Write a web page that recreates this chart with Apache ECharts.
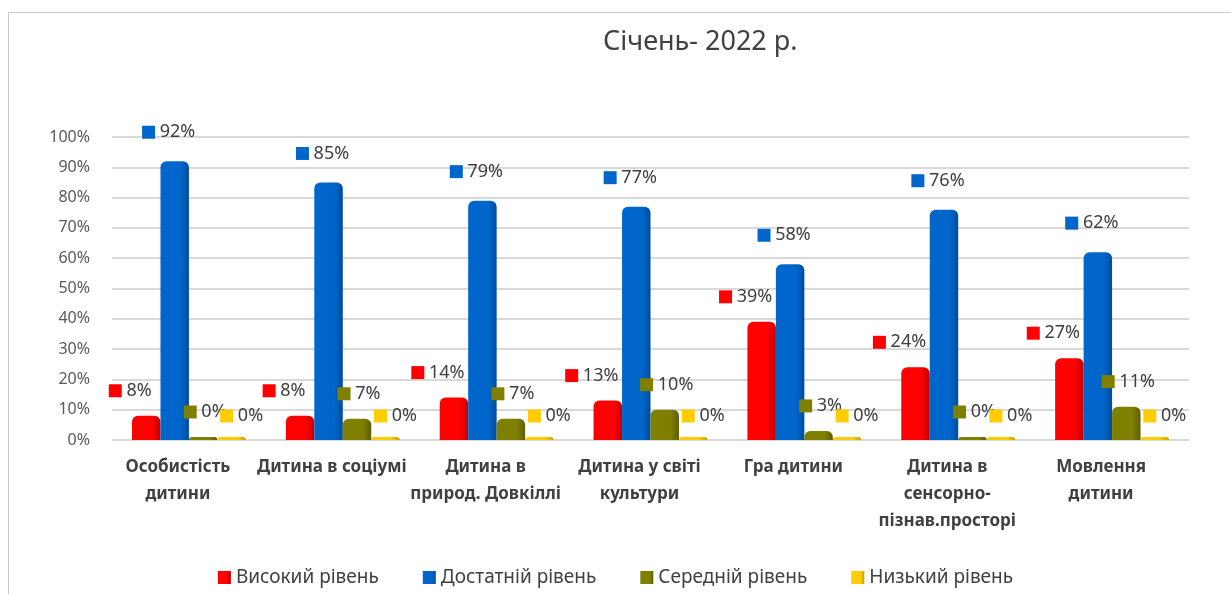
<!DOCTYPE html>
<html>
<head>
<meta charset="utf-8">
<script src="https://cdn.jsdelivr.net/npm/echarts@6/dist/echarts.min.js"></script>
<style>
html,body{margin:0;padding:0;background:#fff;}
#chart{width:1231px;height:594px;}
</style>
</head>
<body>
<div id="chart"></div>
<script>
var categories = ['Особистість\nдитини', 'Дитина в соціумі', 'Дитина в\nприрод. Довкіллі', 'Дитина у світі\nкультури', 'Гра дитини', 'Дитина в\nсенсорно-\nпізнав.просторі', 'Мовлення\nдитини'];
var seriesNames = ['Високий рівень', 'Достатній рівень', 'Середній рівень', 'Низький рівень'];
var high = [8, 8, 14, 13, 39, 24, 27];
var sufficient = [92, 85, 79, 77, 58, 76, 62];
var medium = [0, 7, 7, 10, 3, 0, 11];
var low = [0, 0, 0, 0, 0, 0, 0];
var yTicks = [0, 10, 20, 30, 40, 50, 60, 70, 80, 90, 100];

var colors = ['#FF0000', '#0066CC', '#808000', '#FFCC00'];
var darker = ['#C00000', '#004C99', '#5E5E00', '#C9A000'];
var offsets = [[-16, -6], [-6, -10], [2, -6], [10, -2]];
var FONT = 'Noto Sans';

function mkSeries(name, data, i) {
  return {
    name: name,
    type: 'bar',
    data: data,
    barGap: '0%',
    barCategoryGap: '26%',
    barMinHeight: 3,
    itemStyle: {
      color: {
        type: 'linear', x: 0, y: 0, x2: 1, y2: 0,
        colorStops: [
          {offset: 0, color: colors[i]},
          {offset: 0.7, color: colors[i]},
          {offset: 1, color: darker[i]}
        ]
      },
      borderRadius: [6, 6, 0, 0]
    },
    label: {
      show: true,
      position: 'top',
      distance: 10,
      offset: offsets[i],
      formatter: function (p) { return '{sq|}{v| ' + p.value + '%}'; },
      rich: {
        sq: {width: 13, height: 13, backgroundColor: colors[i]},
        v: {fontFamily: FONT, fontSize: 18, color: '#404040'}
      }
    }
  };
}

var chart = echarts.init(document.getElementById('chart'));
chart.setOption({
  animation: false,
  backgroundColor: '#ffffff',
  title: {
    text: 'Січень- 2022 р.',
    left: 598,
    top: 24,
    textStyle: {fontFamily: FONT, fontSize: 27, fontWeight: 'normal', color: '#404040'}
  },
  graphic: [{
    type: 'rect',
    shape: {x: 8.5, y: 12.5, width: 1400, height: 800},
    style: {fill: 'none', stroke: '#C8C8C8', lineWidth: 1},
    silent: true,
    z: -1
  }],
  legend: {
    data: seriesNames,
    bottom: 2,
    left: 'center',
    itemWidth: 13,
    itemHeight: 13,
    itemGap: 44,
    icon: 'rect',
    textStyle: {fontFamily: FONT, fontSize: 19, color: '#404040'}
  },
  grid: {left: 112, right: 42, top: 137, bottom: 154, containLabel: false},
  xAxis: {
    type: 'category',
    data: categories,
    axisLine: {show: false},
    axisTick: {show: false},
    axisLabel: {
      interval: 0,
      margin: 14,
      fontFamily: FONT,
      fontSize: 17,
      fontWeight: 'bold',
      color: '#404040',
      lineHeight: 27,
      padding: [0, 22, 0, 0]
    }
  },
  yAxis: {
    type: 'value',
    min: yTicks[0],
    max: yTicks[yTicks.length - 1],
    interval: yTicks[1] - yTicks[0],
    axisLine: {show: false},
    axisTick: {show: false},
    axisLabel: {
      formatter: '{value}%',
      fontFamily: FONT,
      fontSize: 16,
      color: '#595959',
      margin: 22
    },
    splitLine: {lineStyle: {color: '#D9D9D9', width: 2}}
  },
  series: [
    mkSeries(seriesNames[0], high, 0),
    mkSeries(seriesNames[1], sufficient, 1),
    mkSeries(seriesNames[2], medium, 2),
    mkSeries(seriesNames[3], low, 3)
  ]
});
</script>
</body>
</html>
